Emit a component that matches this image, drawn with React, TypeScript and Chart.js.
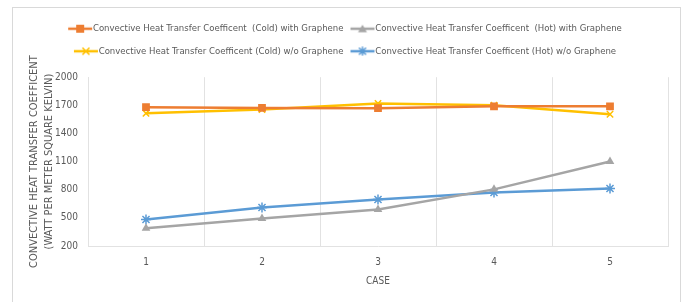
import React, { useEffect, useRef } from "react";
import { Chart, registerables } from "chart.js";

Chart.register(...registerables);

const categories = ["1", "2", "3", "4", "5"];
const coldWithGraphene = [1680, 1672, 1670, 1690, 1690];
const hotWithGraphene = [388, 494, 590, 804, 1102];
const coldWithoutGraphene = [1615, 1655, 1720, 1700, 1605];
const hotWithoutGraphene = [483, 611, 696, 770, 813];
const seriesNames = [
  "Convective Heat Transfer Coefficent  (Cold) with Graphene",
  "Convective Heat Transfer Coefficent  (Hot) with Graphene",
  "Convective Heat Transfer Coefficent (Cold) w/o Graphene",
  "Convective Heat Transfer Coefficent (Hot) w/o Graphene",
];
const yTitle = ["CONVECTIVE HEAT TRANSFER COEFFICENT", "(WATT PER METER SQUARE KELVIN)"];
const xTitle = "CASE";

const FONT = "'Liberation Sans Narrow', 'DejaVu Sans Condensed', 'Liberation Sans', sans-serif";
const TEXT = "#595959";

function makeIcon(color: string, style: string): HTMLCanvasElement {
  const c = document.createElement("canvas");
  c.width = 40;
  c.height = 10;
  const ctx = c.getContext("2d")!;
  ctx.strokeStyle = color;
  ctx.fillStyle = color;
  ctx.lineWidth = 2.5;
  ctx.beginPath();
  ctx.moveTo(7, 5);
  ctx.lineTo(31, 5);
  ctx.stroke();
  ctx.lineWidth = 1.5;
  const cx = 19;
  if (style === "rect") {
    ctx.fillRect(cx - 4, 1, 8, 8);
  } else if (style === "triangle") {
    ctx.beginPath();
    ctx.moveTo(cx, 1);
    ctx.lineTo(cx + 4.5, 8.5);
    ctx.lineTo(cx - 4.5, 8.5);
    ctx.closePath();
    ctx.fill();
  } else if (style === "crossRot") {
    ctx.beginPath();
    ctx.moveTo(cx - 3.5, 1.5);
    ctx.lineTo(cx + 3.5, 8.5);
    ctx.moveTo(cx + 3.5, 1.5);
    ctx.lineTo(cx - 3.5, 8.5);
    ctx.stroke();
  } else {
    ctx.beginPath();
    ctx.moveTo(cx - 3.5, 1.5);
    ctx.lineTo(cx + 3.5, 8.5);
    ctx.moveTo(cx + 3.5, 1.5);
    ctx.lineTo(cx - 3.5, 8.5);
    ctx.moveTo(cx, 0.5);
    ctx.lineTo(cx, 9.5);
    ctx.stroke();
  }
  return c;
}

const legendShift = {
  id: "legendShift",
  afterLayout(chart: any) {
    if (chart.legend) {
      chart.legend.left += 8;
      chart.legend.right += 8;
    }
  },
};

export default function App() {
  const ref = useRef<HTMLCanvasElement | null>(null);

  useEffect(() => {
    if (!ref.current) return;
    const colors = ["#ED7D31", "#A5A5A5", "#FFC000", "#5B9BD5"];
    const styles = ["rect", "triangle", "crossRot", "star"];
    const values = [coldWithGraphene, hotWithGraphene, coldWithoutGraphene, hotWithoutGraphene];
    const radii = [5.5, 5, 4.5, 5];
    const icons = colors.map((c, i) => makeIcon(c, styles[i]));

    const chart = new Chart(ref.current, {
      type: "line",
      data: {
        labels: categories,
        datasets: values.map((v, i) => ({
          label: seriesNames[i],
          data: v,
          borderColor: colors[i],
          backgroundColor: colors[i],
          borderWidth: 2.5,
          pointStyle: styles[i] as any,
          pointRadius: radii[i],
          pointBorderWidth: styles[i] === "rect" || styles[i] === "triangle" ? 0 : 1.5,
          pointBackgroundColor: colors[i],
          pointBorderColor: colors[i],
          tension: 0,
        })),
      },
      plugins: [legendShift],
      options: {
        animation: false,
        responsive: false,
        maintainAspectRatio: false,
        layout: { padding: { top: 11, left: 12, right: 15, bottom: 0 } },
        plugins: {
          legend: {
            position: "top",
            labels: {
              usePointStyle: true,
              pointStyleWidth: 14,
              boxHeight: 10,
              padding: 13,
              color: TEXT,
              font: { family: FONT, size: 9.5 },
              generateLabels: (ch: any) =>
                ch.data.datasets.map((d: any, i: number) => ({
                  text: d.label,
                  pointStyle: icons[i],
                  fillStyle: colors[i],
                  strokeStyle: colors[i],
                  lineWidth: 0,
                  fontColor: TEXT,
                  datasetIndex: i,
                  hidden: false,
                })),
            },
          },
          subtitle: {
            display: true,
            text: " ",
            weight: 500,
            position: "top",
            font: { size: 1 },
            padding: { top: 0, bottom: 10 },
          } as any,
          tooltip: { enabled: false },
        },
        scales: {
          x: {
            offset: true,
            grid: { display: true, offset: true, color: "#e2e2e2", drawTicks: false, lineWidth: 1 },
            border: { display: true, color: "#e2e2e2" },
            ticks: { color: TEXT, font: { family: FONT, size: 10 }, padding: 10 },
            title: {
              display: true,
              text: xTitle,
              color: TEXT,
              font: { family: FONT, size: 10 },
              padding: { top: 4, bottom: 15 },
            },
            afterFit: (s: any) => {
              s.height = 56;
            },
          },
          y: {
            min: 200,
            max: 2000,
            ticks: {
              stepSize: 300,
              color: TEXT,
              font: { family: FONT, size: 10 },
              padding: 10,
              callback: (v: any) => String(v),
            },
            grid: { display: false, drawTicks: false },
            border: { display: true, color: "#e2e2e2" },
            title: {
              display: true,
              text: yTitle,
              color: TEXT,
              font: { family: FONT, size: 11, lineHeight: 1.35 },
              padding: { top: 14.5, bottom: 0 },
            },
            afterFit: (s: any) => {
              s.width = 76;
            },
          },
        },
      },
    });
    return () => chart.destroy();
  }, []);

  return (
    <div style={{ position: "fixed", left: 0, top: 0, width: 683, height: 302, background: "#fff" }}>
      <div
        style={{
          position: "absolute",
          left: 12,
          top: 7,
          width: 669,
          height: 300,
          border: "1px solid #d9d9d9",
          boxSizing: "border-box",
        }}
      />
      <canvas ref={ref} width={683} height={302} style={{ position: "absolute", left: 0, top: 0 }} />
    </div>
  );
}
